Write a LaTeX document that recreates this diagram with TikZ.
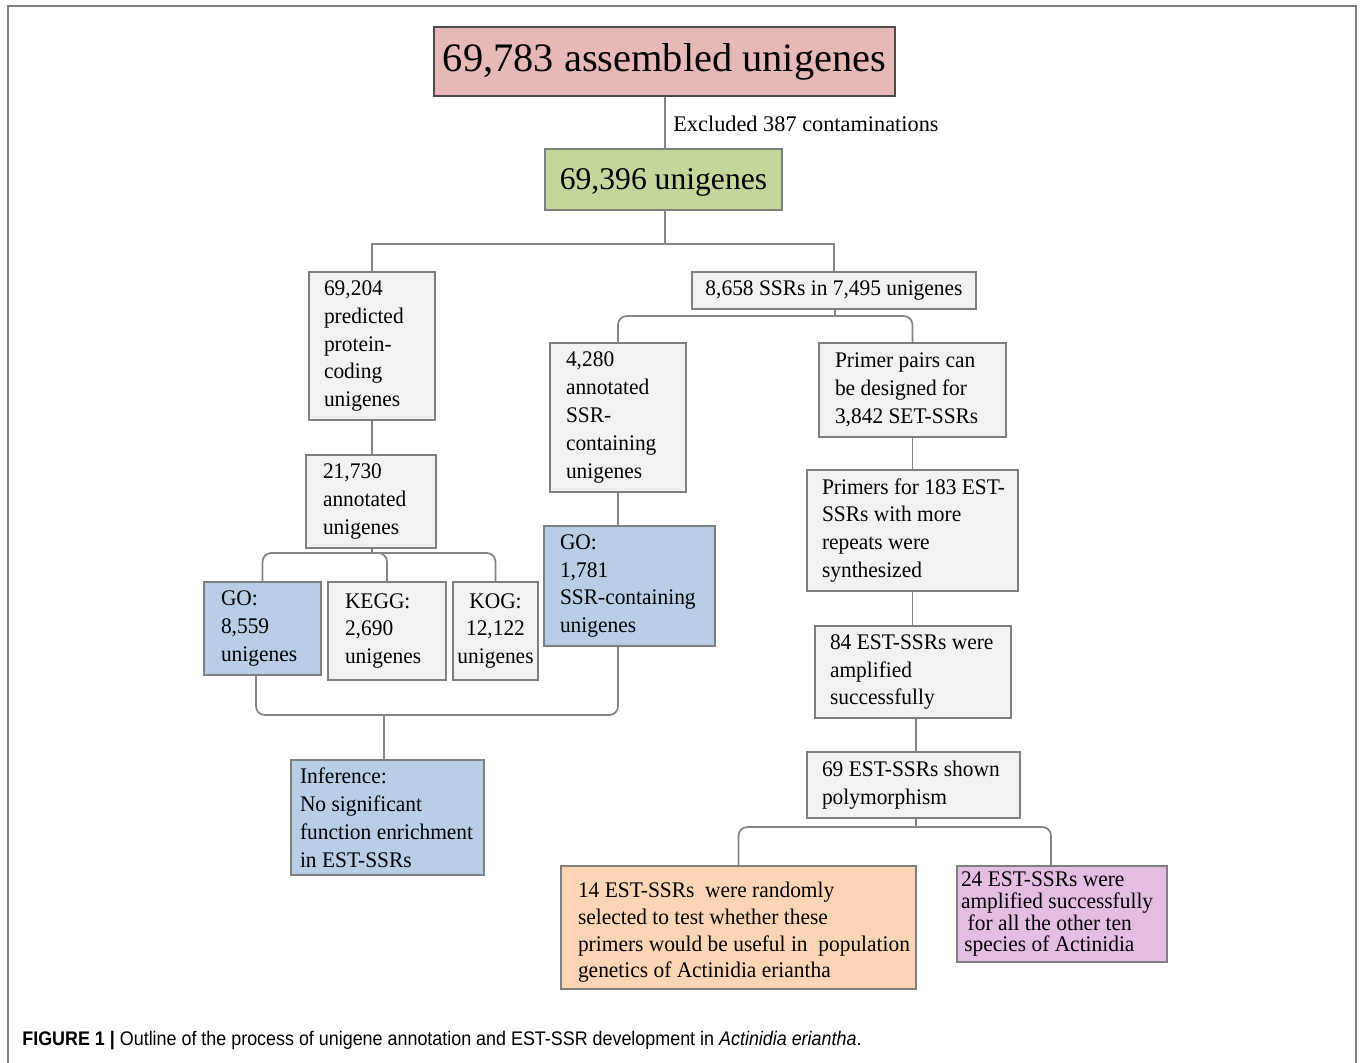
\documentclass[tikz,border=0pt]{standalone}
\usepackage{fontspec}
\usepackage{graphicx}
\setmainfont{Liberation Serif}[FakeStretch=0.96]
\newfontfamily\wideserif{Liberation Serif}
\newfontfamily\capfont{Liberation Sans}
\usetikzlibrary{positioning}

\definecolor{boxpink}{HTML}{E6B9B8}
\definecolor{boxgreen}{HTML}{C4D79B}
\definecolor{boxgray}{HTML}{F2F2F2}
\definecolor{boxblue}{HTML}{B9CDE5}
\definecolor{boxorange}{HTML}{FCD5B5}
\definecolor{boxviolet}{HTML}{E4BDE2}
\definecolor{boxline}{HTML}{7F7F7F}
\definecolor{linegray}{HTML}{858585}
\newcommand{\boxfont}{\fontsize{12.7}{15.9}\selectfont}

\tikzset{
  box/.style={draw=boxline, line width=1pt, inner xsep=0pt, inner ysep=0pt, align=left, font=\boxfont},
  lpad/.style={execute at begin node={\leftskip=#1\relax\spaceskip=0.24em\relax\xspaceskip=0.24em\relax\hyphenpenalty=10000\relax}},
  graybox/.style={box, fill=boxgray},
  bluebox/.style={box, fill=boxblue},
  conn/.style={draw=linegray, line width=1pt},
}

\begin{document}
\begin{tikzpicture}[x=0.02cm, y=-0.02cm]
  \useasboundingbox (0,0) rectangle (1362,1062);
  % frame
  \draw[boxline, line width=1.2pt] (8,1070) -- (8,6) -- (1356,6) -- (1356,1070);

  % top of the tree
  \node[box, draw=black!70, fill=boxpink, align=center, minimum width=9.22cm, minimum height=1.38cm,
        font=\wideserif\fontsize{23}{26}\selectfont] (assembled) at (664.5,61.5) {69,783 assembled unigenes};
  \node[box, fill=boxgreen, align=center, minimum width=4.74cm, minimum height=1.22cm, text depth=0pt,
        font=\wideserif\fontsize{18}{21}\selectfont] (unig) at (663.5,179.5) {69,396 unigenes};
  \node[font=\wideserif\fontsize{12.7}{15}\selectfont, anchor=west, inner sep=0pt] (excl) at (673,124) {Excluded 387 contaminations};

  % left branch
  \node[graybox, text width=2.52cm, lpad=0.30cm, minimum height=2.96cm] (prot) at (372,346)
    {69,204\\predicted\\protein-\\coding\\unigenes};
  \node[graybox, text width=2.6cm, lpad=0.34cm, minimum height=1.86cm] (annot) at (371,501.5)
    {21,730\\annotated\\unigenes};
  \node[bluebox, text width=2.34cm, lpad=0.34cm, minimum height=1.86cm] (go) at (262.5,628.5)
    {GO:\\8,559\\unigenes};
  \node[graybox, text width=2.36cm, lpad=0.34cm, minimum height=1.96cm] (kegg) at (387,631)
    {KEGG:\\2,690\\unigenes};
  \node[graybox, align=center, text width=1.7cm, minimum height=1.96cm] (kog) at (495.5,631)
    {KOG:\\12,122\\unigenes};
  \node[bluebox, text width=3.86cm, lpad=0.18cm, minimum height=2.3cm] (infer) at (387.5,817.5)
    {Inference:\\No significant\\function enrichment\\in EST-SSRs};

  % SSR branch
  \node[graybox, align=center, minimum width=5.68cm, minimum height=0.74cm] (ssr) at (834,290.5)
    {8,658 SSRs in 7,495 unigenes};
  \node[graybox, text width=2.72cm, lpad=0.32cm, minimum height=2.98cm] (ssrann) at (618,417.5)
    {4,280\\annotated\\SSR-\\containing\\unigenes};
  \node[bluebox, text width=3.42cm, lpad=0.32cm, minimum height=2.4cm] (gossr) at (629.5,586)
    {GO:\\1,781\\SSR-containing\\unigenes};
  \node[graybox, text width=3.74cm, lpad=0.32cm, minimum height=1.88cm] (pairs) at (912.5,390)
    {Primer pairs can\\be designed for\\3,842 SET-SSRs};
  \node[graybox, text width=4.22cm, lpad=0.30cm, minimum height=2.42cm] (synth) at (912.5,530.5)
    {\mbox{Primers for 183 EST-}\\SSRs with more\\repeats were\\synthesized};
  \node[graybox, text width=3.92cm, lpad=0.30cm, minimum height=1.84cm] (ampl) at (913,672)
    {84 EST-SSRs were\\amplified\\successfully};
  \node[graybox, text width=4.26cm, lpad=0.30cm, minimum height=1.32cm] (poly) at (913.5,785)
    {69 EST-SSRs shown\\polymorphism};
  \node[box, fill=boxorange, text width=7.1cm, lpad=0.34cm, minimum height=2.46cm,
        font=\fontsize{12.7}{15.3}\selectfont] (popgen) at (738.5,927.5)
    {\rule{0pt}{0.5cm}14 EST-SSRs\ \ were randomly\\selected to test whether these\\\mbox{primers would be useful in\ \ population}\\genetics of Actinidia eriantha};
  \node[box, fill=boxviolet, text width=4.2cm, lpad=0.08cm, minimum height=1.92cm,
        font=\fontsize{12.7}{12.5}\selectfont] (species) at (1062,914)
    {24 EST-SSRs were\\amplified successfully\\\hspace*{0.3em}for all the other ten\\\hspace*{0.15em}species of Actinidia};

  % junctions
  \coordinate (j1) at (665,244);
  \coordinate (j2) at (835,316);
  \coordinate (j3) at (372,553);
  \coordinate (j4) at (384,715);
  \coordinate (j5) at (916,827);
  \coordinate (jv) at (1051,866);

  % connectors
  \draw[conn] (j1 |- assembled.south) -- (j1 |- unig.north);
  \draw[conn] (j1 |- unig.south) -- (j1);
  \draw[conn] (prot.north) |- (j1) -| (ssr.north);
  \draw[conn] (prot.south) -- (prot.south |- annot.north);
  \draw[conn] (j3 |- annot.south) -- (j3);
  \draw[conn, rounded corners=5pt] (go.north) |- (j3) -| (kog.north);
  \draw[conn, rounded corners=5pt] (j3) -| (kegg.north);
  \draw[conn] (j2 |- ssr.south) -- (j2);
  \draw[conn, rounded corners=5pt] (ssrann.north) |- (j2) -| (pairs.north);
  \draw[conn] (ssrann.south) -- (ssrann.south |- gossr.north);
  \draw[conn, rounded corners=5pt] ([xshift=-0.13cm]go.south) |- (j4) -| (ssrann.south |- gossr.south);
  \draw[conn] (j4) -- (j4 |- infer.north);
  \draw[conn] (pairs.south) -- (pairs.south |- synth.north);
  \draw[conn] (synth.south) -- (synth.south |- ampl.north);
  \draw[conn] (j5 |- ampl.south) -- (j5 |- poly.north);
  \draw[conn] (j5 |- poly.south) -- (j5);
  \draw[conn, rounded corners=5pt] (popgen.north) |- (j5) -| (jv);

  % caption
  \node[anchor=west, inner sep=0pt, font=\capfont\fontsize{11.2}{13}\selectfont] (caption) at (22,1041)
    {\scalebox{0.91}[1]{\textbf{FIGURE 1 |} Outline of the process of unigene annotation and EST-SSR development in \textit{Actinidia eriantha}.}};
\end{tikzpicture}
\end{document}
